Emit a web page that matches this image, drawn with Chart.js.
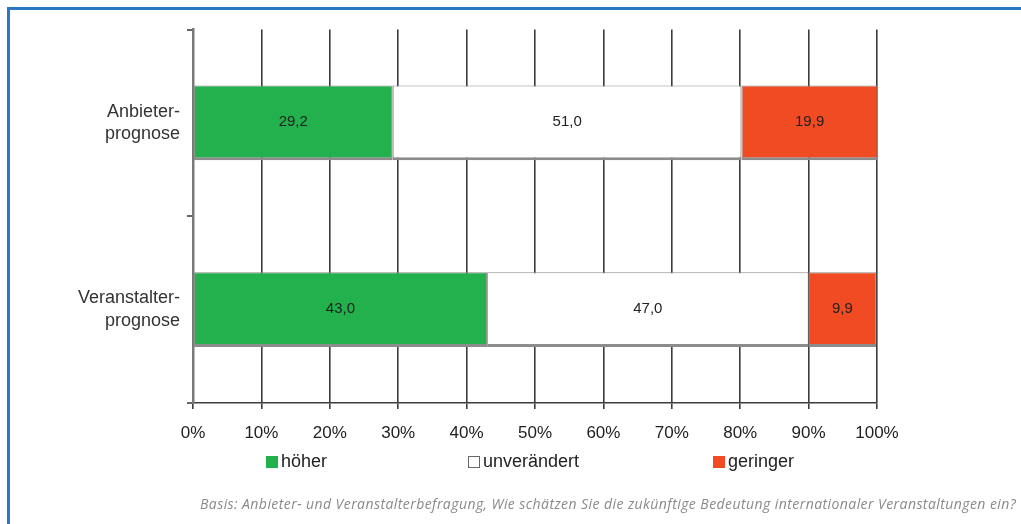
<!DOCTYPE html>
<html>
<head>
<meta charset="utf-8">
<script src="https://cdn.jsdelivr.net/npm/chart.js@4/dist/chart.umd.min.js"></script>
<style>
    html, body { margin: 0; padding: 0; background: #fff; }
    #wrap { position: relative; width: 1021px; height: 524px; overflow: hidden; font-family: 'Liberation Sans', Arial, sans-serif; }
    #frame { position: absolute; left: 7px; top: 7px; right: -10px; bottom: -10px; border-top: 3px solid #2a78c2; border-left: 3px solid #2a78c2; }
    #chartBox { position: absolute; left: 0; top: 0; width: 1021px; height: 524px; }
    .legend-item { position: absolute; top: 451px; font-size: 18px; color: #222; display: flex; align-items: center; }
    .legend-item .box { width: 12px; height: 12px; margin-right: 3px; box-sizing: border-box; }
    #footer { position: absolute; left: 200px; top: 494px; font-family: 'Open Sans', sans-serif; font-style: italic; font-size: 14px; color: #8a8a8a; white-space: nowrap; }
</style>
</head>
<body>
<div id="wrap">
    <div id="frame"></div>
    <div id="chartBox"><canvas id="prognoseChart" width="1021" height="524"></canvas></div>
    <div id="legend"></div>
    <div id="footer">Basis: Anbieter- und Veranstalterbefragung, Wie schätzen Sie die zukünftige Bedeutung internationaler Veranstaltungen ein?</div>
</div>
<script>
// ===== DATA =====
const CATEGORIES = [['Anbieter-', 'prognose'], ['Veranstalter-', 'prognose']];
const SERIES_NAMES = ['höher', 'unverändert', 'geringer'];
const HOEHER = [29.2, 43.0];
const UNVERAENDERT = [51.0, 47.0];
const GERINGER = [19.9, 9.9];
const X_TICKS = [0, 10, 20, 30, 40, 50, 60, 70, 80, 90, 100];

const COLORS = ['#22b14c', '#ffffff', '#f04b23'];
const LEGEND_X = [266, 468, 713];

// ===== VALUE LABELS =====
const valueLabels = {
    id: 'valueLabels',
    afterDatasetsDraw(chart) {
        const ctx = chart.ctx;
        ctx.save();
        ctx.font = '15px "Liberation Sans", Arial, sans-serif';
        ctx.fillStyle = '#222';
        ctx.textAlign = 'center';
        ctx.textBaseline = 'middle';
        chart.data.datasets.forEach((ds, i) => {
            chart.getDatasetMeta(i).data.forEach((bar, j) => {
                const x = (bar.x + bar.base) / 2;
                ctx.fillText(ds.data[j].toFixed(1).replace('.', ','), x, bar.y - 1);
            });
        });
        ctx.restore();
    }
};

const seriesData = [HOEHER, UNVERAENDERT, GERINGER];

new Chart(document.getElementById('prognoseChart').getContext('2d'), {
    type: 'bar',
    data: {
        labels: CATEGORIES,
        datasets: SERIES_NAMES.map((name, i) => ({
            label: name,
            data: seriesData[i],
            backgroundColor: COLORS[i],
            borderColor: '#8c8c8c',
            borderWidth: { top: 1, left: 1, right: 1, bottom: 3 },
            borderSkipped: false,
            categoryPercentage: 1,
            barPercentage: 0.4
        }))
    },
    options: {
        indexAxis: 'y',
        responsive: false,
        animation: false,
        layout: { padding: { left: 0, right: 144, top: 29, bottom: 81 } },
        plugins: {
            legend: { display: false },
            tooltip: { enabled: false }
        },
        scales: {
            x: {
                stacked: true,
                min: 0,
                max: 100,
                afterBuildTicks: (scale) => { scale.ticks = X_TICKS.map(v => ({ value: v })); },
                afterFit: (scale) => { scale.height = 40; },
                ticks: {
                    callback: (v) => v + '%',
                    color: '#222',
                    font: { family: '"Liberation Sans", Arial, sans-serif', size: 17 },
                    padding: 14,
                    maxRotation: 0
                },
                grid: { color: '#3c3c3c', lineWidth: 1.6, tickLength: 6, drawOnChartArea: true },
                border: { color: '#3c3c3c', width: 1.6 }
            },
            y: {
                stacked: true,
                afterFit: (scale) => { scale.width = 193; },
                ticks: {
                    color: '#333',
                    font: { family: '"Liberation Sans", Arial, sans-serif', size: 18, lineHeight: 1.25 },
                    padding: 7
                },
                grid: { drawOnChartArea: false, color: '#666', lineWidth: 2, tickLength: 6 },
                border: { color: '#7a7a7a', width: 2.5 }
            }
        }
    },
    plugins: [valueLabels]
});

// ===== LEGEND =====
const legend = document.getElementById('legend');
SERIES_NAMES.forEach((name, i) => {
    const item = document.createElement('div');
    item.className = 'legend-item';
    item.style.left = LEGEND_X[i] + 'px';
    const border = i === 1 ? '1px solid #666' : 'none';
    item.innerHTML = `<span class="box" style="background:${COLORS[i]};border:${border}"></span>${name}`;
    legend.appendChild(item);
});

// stretch footer to span the same width as in the source
const footer = document.getElementById('footer');
const targetWidth = 816;
const spacing = (targetWidth - footer.offsetWidth) / footer.textContent.length;
footer.style.letterSpacing = spacing.toFixed(2) + 'px';
</script>
</body>
</html>
